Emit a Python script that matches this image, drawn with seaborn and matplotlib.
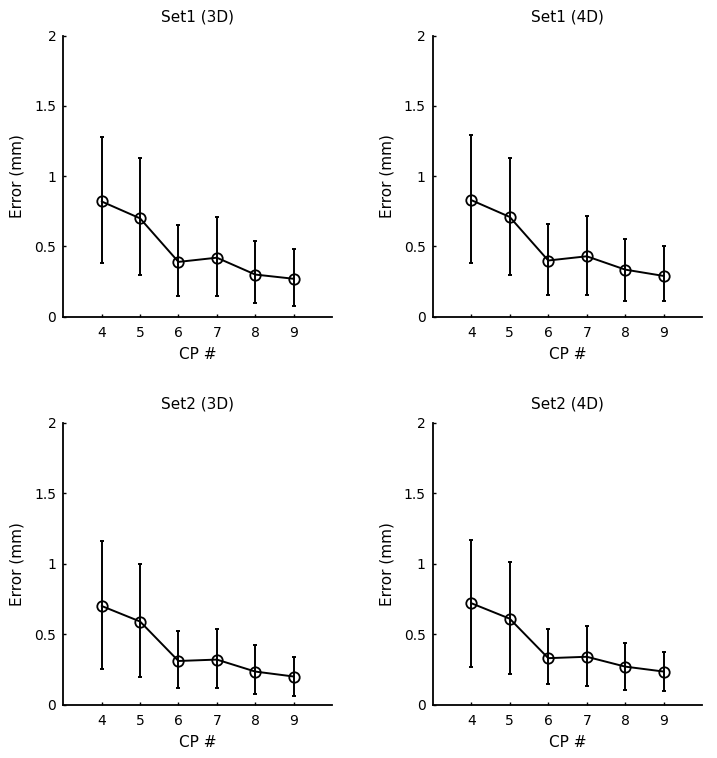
import numpy as np
import pandas as pd
import seaborn as sns
import matplotlib
matplotlib.use('Agg')
import matplotlib.pyplot as plt

cp = [4, 5, 6, 7, 8, 9]

# mean error and lower / upper ends of the error bars
set1_3d = [0.82, 0.70, 0.39, 0.42, 0.30, 0.27]
set1_3d_lo = [0.38, 0.30, 0.145, 0.145, 0.095, 0.078]
set1_3d_hi = [1.28, 1.13, 0.65, 0.71, 0.54, 0.48]

set1_4d = [0.83, 0.71, 0.40, 0.43, 0.335, 0.29]
set1_4d_lo = [0.38, 0.30, 0.155, 0.155, 0.115, 0.115]
set1_4d_hi = [1.29, 1.13, 0.66, 0.72, 0.555, 0.50]

set2_3d = [0.70, 0.59, 0.31, 0.32, 0.235, 0.20]
set2_3d_lo = [0.25, 0.20, 0.115, 0.115, 0.076, 0.065]
set2_3d_hi = [1.16, 1.00, 0.52, 0.54, 0.42, 0.34]

set2_4d = [0.72, 0.61, 0.33, 0.34, 0.27, 0.235]
set2_4d_lo = [0.27, 0.22, 0.145, 0.135, 0.105, 0.095]
set2_4d_hi = [1.17, 1.01, 0.54, 0.56, 0.44, 0.375]

titles = ['Set1 (3D)', 'Set1 (4D)', 'Set2 (3D)', 'Set2 (4D)']
panels = [(set1_3d, set1_3d_lo, set1_3d_hi),
          (set1_4d, set1_4d_lo, set1_4d_hi),
          (set2_3d, set2_3d_lo, set2_3d_hi),
          (set2_4d, set2_4d_lo, set2_4d_hi)]

sns.set_theme(style="ticks")
plt.rcParams['font.family'] = ['DejaVu Sans']
plt.rcParams['xtick.direction'] = 'in'
plt.rcParams['ytick.direction'] = 'in'
plt.rcParams['text.color'] = 'black'
plt.rcParams['axes.labelcolor'] = 'black'
plt.rcParams['axes.titlecolor'] = 'black'

W, H = 717, 758
fig = plt.figure(figsize=(W / 100, H / 100), dpi=100)

# axes boxes in pixels: left, right, top, bottom
boxes = [(63.3, 332, 35.7, 316.7), (432.7, 702.3, 35.7, 316.7),
         (63.3, 332, 422.7, 704.7), (432.7, 702.3, 422.7, 704.7)]

for (l, r, t, b), title, (mean, lo, hi) in zip(boxes, titles, panels):
    ax = fig.add_axes([l / W, 1 - b / H, (r - l) / W, (b - t) / H])
    df = pd.DataFrame({'CP #': cp, 'Error (mm)': mean})
    mean = np.array(mean)
    yerr = [mean - np.array(lo), np.array(hi) - mean]
    ax.errorbar(cp, mean, yerr=yerr, fmt='none', ecolor='black',
                elinewidth=1.4, capsize=1.5, capthick=1.4, zorder=2)
    sns.lineplot(data=df, x='CP #', y='Error (mm)', ax=ax, color='black',
                 linewidth=1.4, marker='o', markersize=7.5, markerfacecolor='none',
                 markeredgecolor='black', markeredgewidth=1.3, zorder=3)
    ax.set_xlim(3, 10)
    ax.set_ylim(0, 2)
    ax.set_xticks(cp)
    ax.set_yticks([0, 0.5, 1, 1.5, 2])
    ax.set_yticklabels(['0', '0.5', '1', '1.5', '2'])
    ax.tick_params(length=2.2, width=1, labelsize=10, colors='black', pad=5)
    ax.tick_params(axis='x', pad=7)
    for side in ['left', 'bottom']:
        ax.spines[side].set_linewidth(1.3)
        ax.spines[side].set_color('black')
    sns.despine(ax=ax)
    ax.set_title(title, fontsize=11, pad=10, color='black')
    ax.set_xlabel('CP #', fontsize=11, labelpad=5, color='black')
    ax.set_ylabel('Error (mm)', fontsize=11, labelpad=7, color='black')

fig.savefig('out.png', dpi=100)
